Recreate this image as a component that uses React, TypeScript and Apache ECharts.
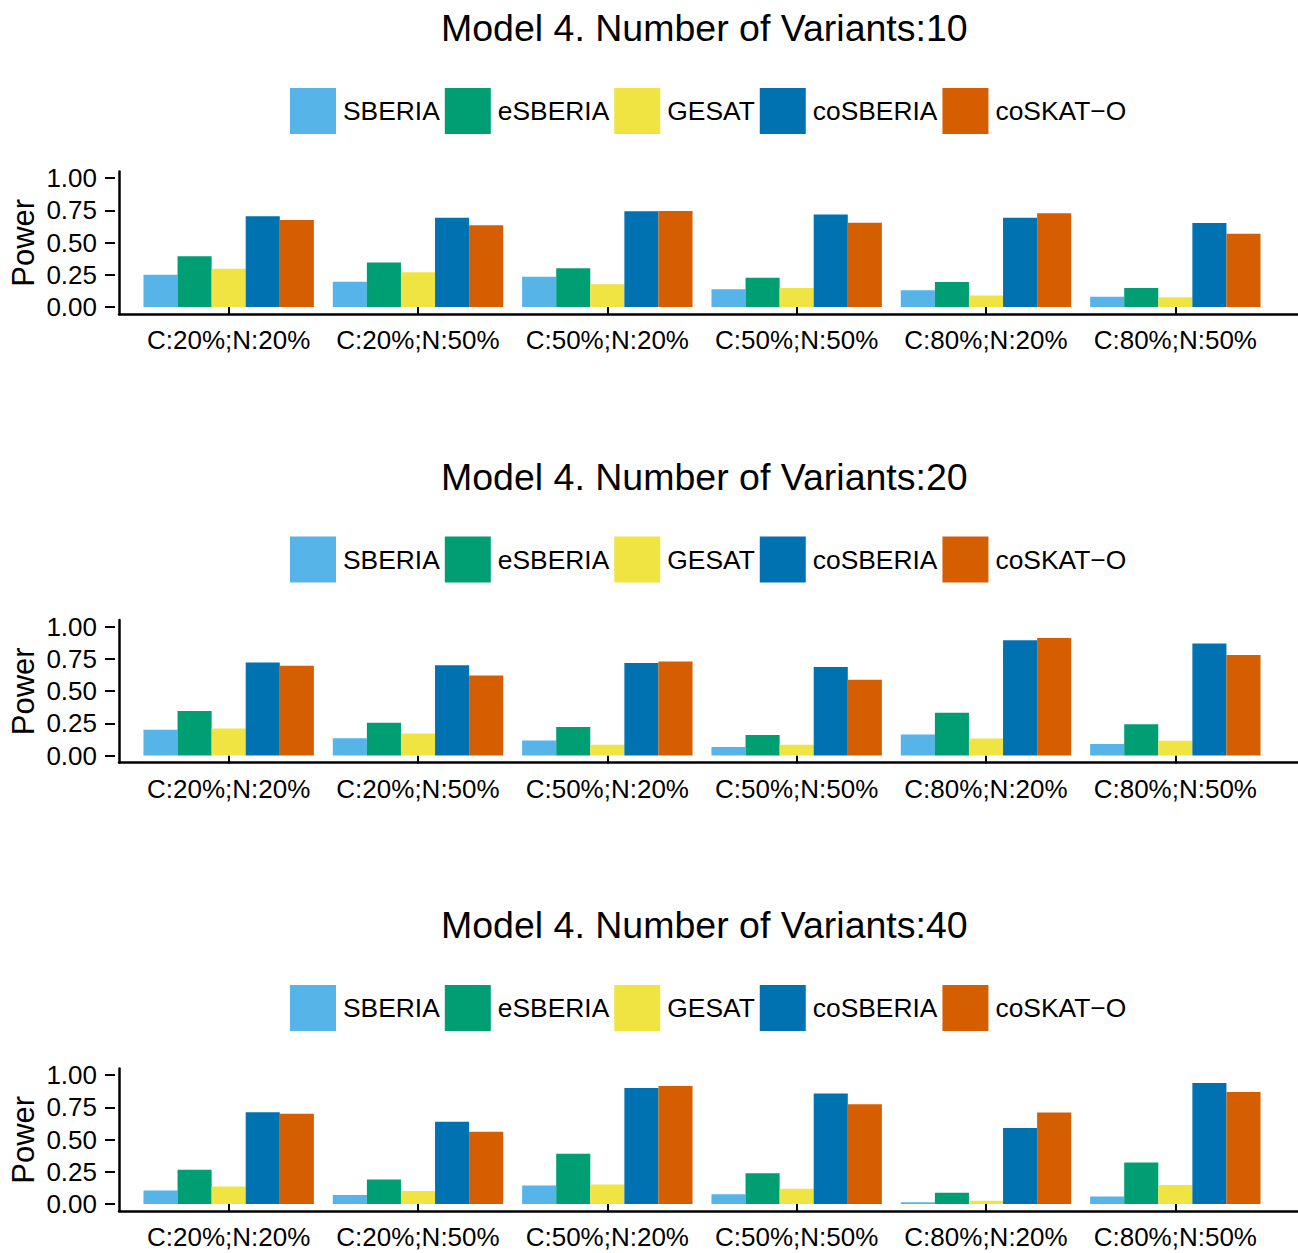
import React, { useEffect, useRef } from "react";
import * as echarts from "echarts";

const categories = ["C:20%;N:20%", "C:20%;N:50%", "C:50%;N:20%", "C:50%;N:50%", "C:80%;N:20%", "C:80%;N:50%"];
const methods = ["SBERIA", "eSBERIA", "GESAT", "coSBERIA", "coSKAT\u2212O"];
const colors = ["#56B4E9", "#009E73", "#F0E442", "#0072B2", "#D55E00"];
const panelTitles = [
  "Model 4. Number of Variants:10",
  "Model 4. Number of Variants:20",
  "Model 4. Number of Variants:40",
];

// Variants: 10
const v10_SBERIA = [0.25, 0.196, 0.235, 0.137, 0.129, 0.08];
const v10_eSBERIA = [0.393, 0.344, 0.3, 0.227, 0.194, 0.147];
const v10_GESAT = [0.297, 0.269, 0.176, 0.147, 0.09, 0.075];
const v10_coSBERIA = [0.703, 0.692, 0.742, 0.718, 0.692, 0.651];
const v10_coSKATO = [0.674, 0.633, 0.744, 0.654, 0.726, 0.568];

// Variants: 20
const v20_SBERIA = [0.199, 0.134, 0.116, 0.065, 0.163, 0.09];
const v20_eSBERIA = [0.344, 0.253, 0.22, 0.158, 0.331, 0.243];
const v20_GESAT = [0.209, 0.171, 0.083, 0.083, 0.132, 0.114];
const v20_coSBERIA = [0.721, 0.7, 0.718, 0.687, 0.894, 0.868];
const v20_coSKATO = [0.695, 0.62, 0.729, 0.587, 0.91, 0.78];

// Variants: 40
const v40_SBERIA = [0.105, 0.069, 0.144, 0.075, 0.013, 0.059];
const v40_eSBERIA = [0.265, 0.19, 0.39, 0.239, 0.087, 0.321];
const v40_GESAT = [0.136, 0.1, 0.152, 0.118, 0.026, 0.147];
const v40_coSBERIA = [0.712, 0.638, 0.9, 0.856, 0.589, 0.938];
const v40_coSKATO = [0.7, 0.56, 0.915, 0.774, 0.71, 0.869];

const panelData = [
  [v10_SBERIA, v10_eSBERIA, v10_GESAT, v10_coSBERIA, v10_coSKATO],
  [v20_SBERIA, v20_eSBERIA, v20_GESAT, v20_coSBERIA, v20_coSKATO],
  [v40_SBERIA, v40_eSBERIA, v40_GESAT, v40_coSBERIA, v40_coSKATO],
];

const FONT = "'Liberation Sans', Arial, Helvetica, sans-serif";

export default function App() {
  const ref = useRef<HTMLDivElement>(null);
  useEffect(() => {
    if (!ref.current) return;
    const chart = echarts.init(ref.current, undefined, { renderer: "svg" });
    const titles: any[] = [];
    const legends: any[] = [];
    const grids: any[] = [];
    const xAxes: any[] = [];
    const yAxes: any[] = [];
    const series: any[] = [];
    panelData.forEach((pd, p) => {
      const dy = 448.5 * p;
      titles.push({
        text: panelTitles[p],
        left: 441,
        top: 9 + dy,
        padding: 0,
        textStyle: { fontFamily: FONT, fontSize: 37.5, fontWeight: "normal", color: "#000" },
      });
      legends.push({
        data: methods,
        left: 290,
        top: 88 + dy,
        padding: 0,
        itemWidth: 46,
        itemHeight: 46,
        itemGap: 5,
        icon: "rect",
        selectedMode: false,
        textStyle: { fontFamily: FONT, fontSize: 26.4, color: "#000", padding: [0, 0, 0, 2] },
      });
      // grid A: bars
      grids.push({ left: 134, top: 178 + dy, width: 1136, height: 129, containLabel: false });
      // grid B: axis frame
      grids.push({ left: 115, top: 171.5 + dy, right: 0, height: 142.5, containLabel: false });
      const ga = 2 * p;
      const gb = 2 * p + 1;
      xAxes.push({
        type: "category",
        gridIndex: ga,
        data: categories,
        offset: 7,
        axisLine: { show: false },
        axisTick: { show: true, alignWithLabel: true, length: 8, lineStyle: { color: "#000", width: 2 } },
        axisLabel: { fontFamily: FONT, fontSize: 26, color: "#000", margin: 13, interval: 0 },
        splitLine: { show: false },
      });
      xAxes.push({
        type: "value",
        gridIndex: gb,
        min: 0,
        max: 1,
        axisLine: { show: true, lineStyle: { color: "#000", width: 2.5 } },
        axisTick: { show: false },
        axisLabel: { show: false },
        splitLine: { show: false },
      });
      yAxes.push({
        type: "value",
        gridIndex: ga,
        min: 0,
        max: 1,
        interval: 0.25,
        offset: 19,
        axisLine: { show: false },
        axisTick: { show: true, length: 10, lineStyle: { color: "#000", width: 2 } },
        axisLabel: {
          fontFamily: FONT,
          fontSize: 26,
          color: "#000",
          margin: 18,
          formatter: (v: number) => v.toFixed(2),
        },
        splitLine: { show: false },
      });
      yAxes.push({
        type: "value",
        gridIndex: gb,
        min: 0,
        max: 1,
        name: "Power",
        nameLocation: "middle",
        nameGap: 80,
        nameTextStyle: { fontFamily: FONT, fontSize: 31, color: "#000" },
        axisLine: { show: true, lineStyle: { color: "#000", width: 2.5 } },
        axisTick: { show: false },
        axisLabel: { show: false },
        splitLine: { show: false },
      });
      pd.forEach((vals, i) => {
        series.push({
          type: "bar",
          name: methods[i],
          xAxisIndex: ga,
          yAxisIndex: ga,
          data: vals,
          barGap: "0%",
          barCategoryGap: "10%",
          itemStyle: { color: colors[i] },
          emphasis: { disabled: true },
        });
      });
    });
    chart.setOption({
      animation: false,
      color: colors,
      textStyle: { fontFamily: FONT },
      title: titles,
      legend: legends,
      grid: grids,
      xAxis: xAxes,
      yAxis: yAxes,
      series,
    });
    return () => chart.dispose();
  }, []);
  return (
    <div
      ref={ref}
      style={{ position: "absolute", left: 0, top: 0, width: 1298, height: 1253, background: "#fff" }}
    />
  );
}
